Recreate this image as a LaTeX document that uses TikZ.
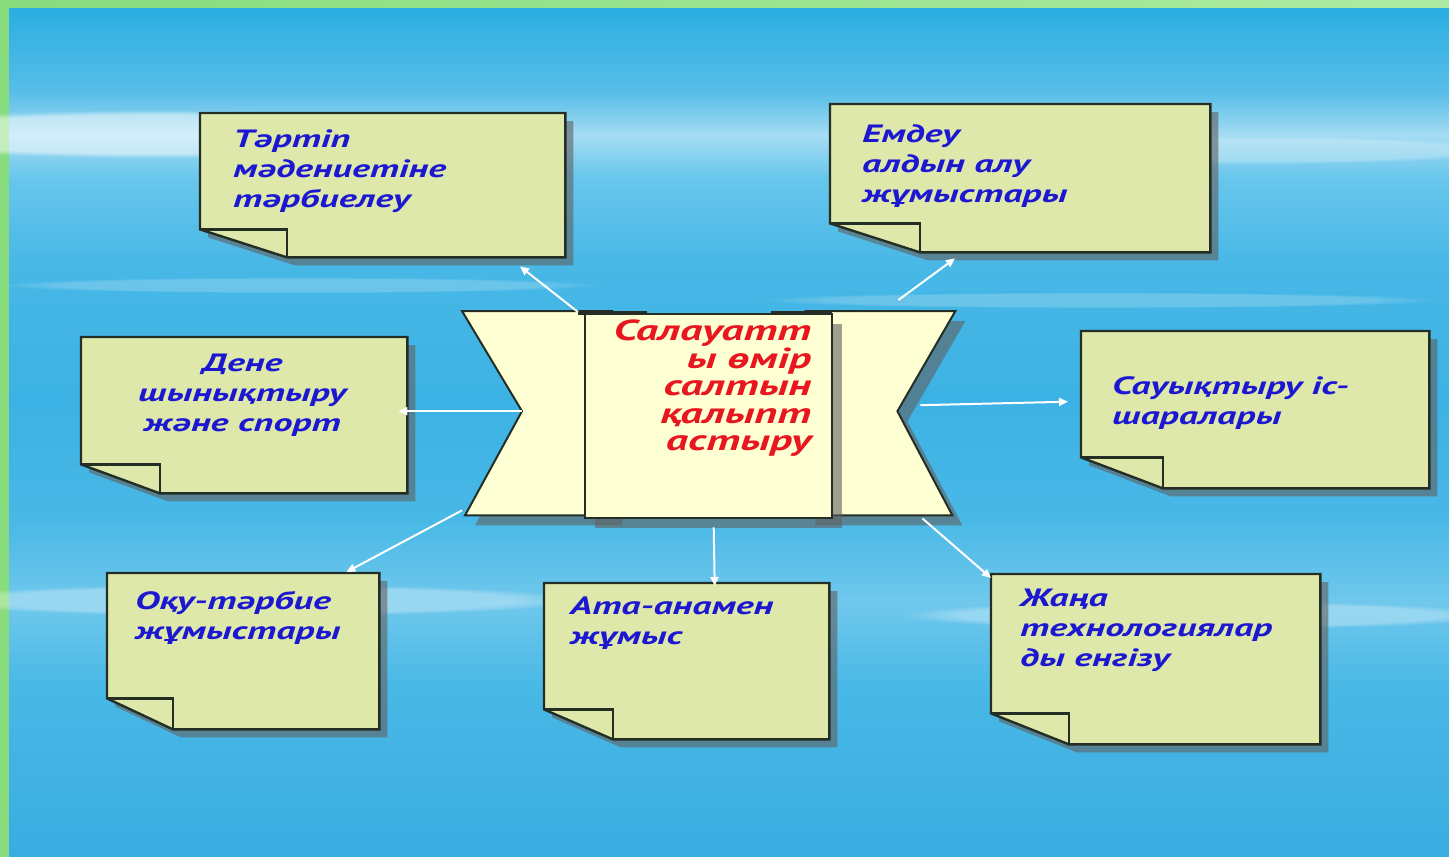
\documentclass[tikz,border=0pt]{standalone}
\usepackage{fontspec}
\newfontfamily\notefont[FakeStretch=1.52]{PT Sans}
\usetikzlibrary{arrows.meta,fadings}
\definecolor{paper}{RGB}{222,232,170}
\definecolor{cream}{RGB}{255,255,212}
\definecolor{inkblue}{RGB}{28,24,210}
\definecolor{inkred}{RGB}{232,22,30}
\definecolor{rim}{RGB}{36,46,36}
\definecolor{leaf}{RGB}{136,220,126}
\definecolor{leaflt}{RGB}{172,234,162}
\definecolor{skya}{RGB}{58,172,224}
\definecolor{skyb}{RGB}{72,184,230}
\definecolor{skyc}{RGB}{112,200,236}
\definecolor{skyd}{RGB}{60,178,228}
\definecolor{skye}{RGB}{104,198,236}
\definecolor{skyf}{RGB}{165,220,243}
\definecolor{skyg}{RGB}{88,190,232}
\definecolor{skyh}{RGB}{42,174,226}
\pgfdeclareverticalshading{sky}{100bp}{color(0bp)=(skya); color(25bp)=(skya);
  color(35bp)=(skyb); color(40bp)=(skyc); color(45bp)=(skyb); color(52bp)=(skyd);
  color(60bp)=(skyb); color(65bp)=(skye); color(67.5bp)=(skyf); color(70bp)=(skyg);
  color(75bp)=(skyh); color(100bp)=(skyh)}
\newcommand\notepaper[3]{%
  \fill[papershade] ([shift={(8,8)}]#1.north west) -- ([shift={(8,8)}]#1.north east)
    -- ([shift={(8,8)}]#1.south east) -- ([shift={(8+#2,8)}]#1.south west)
    -- ([shift={(8,8-#3)}]#1.south west) -- cycle;
  \draw[paperline] (#1.north west) -- (#1.north east) -- (#1.south east)
    -- ([shift={(#2,0)}]#1.south west) -- ([shift={(0,-#3)}]#1.south west) -- cycle;
  \draw[paperline,fill=none] ([shift={(0,-#3)}]#1.south west) -- ([shift={(#2,-#3)}]#1.south west)
    -- ([shift={(#2,0)}]#1.south west);
}
\begin{document}
\begin{tikzpicture}[x=1pt,y=-1pt,
  notebox/.style={rectangle,inner sep=0pt,anchor=north west},
  notetext/.style={font=\notefont\bfseries\itshape\fontsize{25}{30}\selectfont,
    text=inkblue,align=left,inner sep=0pt,anchor=north west},
  papershade/.style={fill=black!62,opacity=.6},
  paperline/.style={draw=rim,line width=2.4pt,fill=paper,line join=miter},
  ribbonline/.style={draw=rim,line width=2pt,fill=cream},
  glow/.style={white,path fading=circle with fuzzy edge 20 percent},
  link/.style={draw=white,line width=2pt,-{Triangle[length=9pt,width=8pt]}}]
\useasboundingbox (0,0) rectangle (1449,857);
\fill[leaf] (0,0) rectangle (1449,857);
\shade[left color=leaf,right color=leaflt] (0,0) rectangle (1449,8);
\shade[shading=sky] (9,8) rectangle (1449,857);
\fill[glow,opacity=.5] (160,134) ellipse (330 and 24);
\fill[glow,opacity=.25] (1250,150) ellipse (260 and 14);
\fill[glow,opacity=.2] (300,285) ellipse (300 and 8);
\fill[glow,opacity=.2] (1100,300) ellipse (340 and 8);
\fill[glow,opacity=.3] (250,600) ellipse (330 and 16);
\fill[glow,opacity=.3] (1200,615) ellipse (300 and 14);

\node[notebox,minimum width=365pt,minimum height=144pt] (tartip) at (200,113) {};
\node[notebox,minimum width=380pt,minimum height=148pt] (emdeu) at (830,104) {};
\node[notebox,minimum width=326pt,minimum height=156pt] (dene) at (81,337) {};
\node[notebox,minimum width=348pt,minimum height=157pt] (sauyq) at (1081,331) {};
\node[notebox,minimum width=272pt,minimum height=156pt] (oqu) at (107,573) {};
\node[notebox,minimum width=285pt,minimum height=156pt] (ata) at (544,583) {};
\node[notebox,minimum width=329pt,minimum height=170pt] (jana) at (991,574) {};
\notepaper{tartip}{87}{28}
\notepaper{emdeu}{90}{29}
\notepaper{dene}{79}{29}
\notepaper{sauyq}{82}{31}
\notepaper{oqu}{66}{31}
\notepaper{ata}{69}{30}
\notepaper{jana}{78}{31}

\node[notetext] (tartip-t) at ([shift={(33,17)}]tartip.north west) {Тәртіп\\мәдениетіне\\тәрбиелеу};
\node[notetext] (emdeu-t) at ([shift={(32,20)}]emdeu.north west) {Емдеу\\алдын алу\\жұмыстары};
\node[notetext,align=center,anchor=north] (dene-t) at ([shift={(-2,17)}]dene.north) {Дене\\шынықтыру\\және спорт};
\node[notetext] (sauyq-t) at ([shift={(31,45)}]sauyq.north west) {Сауықтыру іс-\\шаралары};
\node[notetext] (oqu-t) at ([shift={(28,18)}]oqu.north west) {Оқу-тәрбие\\жұмыстары};
\node[notetext] (ata-t) at ([shift={(26,14)}]ata.north west) {Ата-анамен\\жұмыс};
\node[notetext] (jana-t) at ([shift={(29,15)}]jana.north west) {Жаңа\\технологиялар\\ды енгізу};

\node[notebox,minimum width=493pt,minimum height=204pt] (rib) at (462,311) {};
\node[notebox,minimum width=247pt,minimum height=204pt] (ctr) at (585,314) {};
\fill[papershade] ([shift={(10,10)}]rib.north west) -- ([shift={(160,10)}]rib.north west)
  -- ([shift={(160,10)}]rib.south west) -- ([shift={(13,10)}]rib.south west)
  -- ([shift={(70,8)}]rib.west) -- cycle;
\fill[papershade] ([shift={(10,10)}]rib.north east) -- ([shift={(-140,10)}]rib.north east)
  -- ([shift={(-140,10)}]rib.south east) -- ([shift={(7,10)}]rib.south east)
  -- ([shift={(-48,8)}]rib.east) -- cycle;
\draw[ribbonline] (rib.north west) -- ([shift={(150,0)}]rib.north west)
  -- ([shift={(150,0)}]rib.south west) -- ([shift={(3,0)}]rib.south west)
  -- ([shift={(60,-2)}]rib.west) -- cycle;
\draw[ribbonline] (rib.north east) -- ([shift={(-150,0)}]rib.north east)
  -- ([shift={(-150,0)}]rib.south east) -- ([shift={(-3,0)}]rib.south east)
  -- ([shift={(-58,-2)}]rib.east) -- cycle;
\fill[rim] ([shift={(-7,-3)}]ctr.north west) rectangle ([shift={(62,1)}]ctr.north west);
\fill[rim] ([shift={(-61,-3)}]ctr.north east) rectangle ([shift={(0,1)}]ctr.north east);
\fill[papershade] ([shift={(10,10)}]ctr.north west) rectangle ([shift={(10,10)}]ctr.south east);
\draw[ribbonline] (ctr.north west) rectangle (ctr.south east);
\node[notetext,font=\notefont\bfseries\itshape\fontsize{29}{27.5}\selectfont,text=inkred,
  align=right,anchor=north east] (ctr-t) at ([shift={(-21,6)}]ctr.north east)
  {Салауатт\\ы өмір\\салтын\\қалыпт\\астыру};

\draw[link] ([shift={(-7,-2)}]ctr.north west) -- ([shift={(320,9)}]tartip.south west);
\draw[link] ([shift={(-57,-11)}]rib.north east) -- ([shift={(125,6)}]emdeu.south west);
\draw[link] ([shift={(60,-2)}]rib.west) -- ([shift={(-9,-4)}]dene.east);
\draw[link] ([shift={(-35,-8)}]rib.east) -- ([shift={(-13,-8)}]sauyq.west);
\draw[link] ([shift={(0,-5)}]rib.south west) -- ([shift={(-33,-1)}]oqu.north east);
\draw[link] ([shift={(5,9)}]ctr.south) -- ([shift={(28,3)}]ata.north);
\draw[link] ([shift={(-33,3)}]rib.south east) -- ([shift={(0,4)}]jana.north west);
\end{tikzpicture}
\end{document}
